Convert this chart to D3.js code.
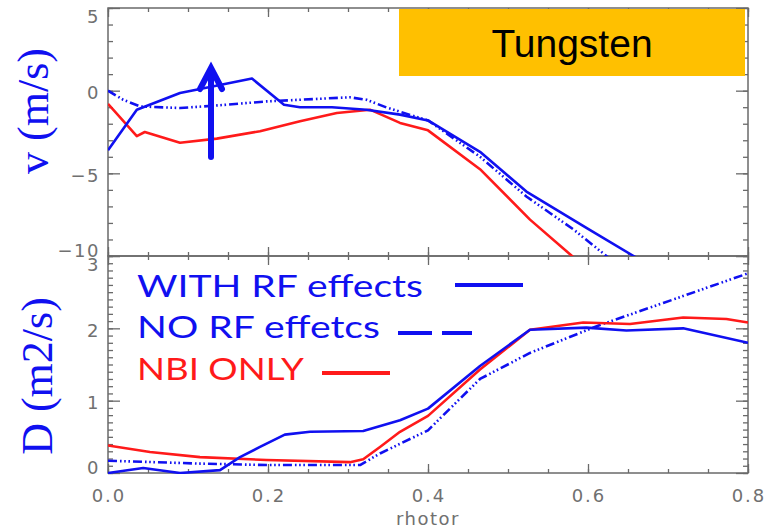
<!DOCTYPE html>
<html>
<head>
<meta charset="utf-8">
<script src="https://cdn.jsdelivr.net/npm/d3@7"></script>
<style>
  html, body { margin: 0; padding: 0; background: #fff; }
  svg { display: block; }
</style>
</head>
<body>
<svg id="chart" width="771" height="527"></svg>
<script>
// Radial profiles of tungsten transport vs normalised toroidal radius
const xTicks = [0.0, 0.2, 0.4, 0.6, 0.8];
const vTicks = [5, 0, -5, -10];
const dTicks = [0, 1, 2, 3];

// Convective velocity v (m/s): [rhotor, v]
const vWithRF = [[0,-3.6],[0.036,-1.15],[0.09,-0.14],[0.115,0.1],[0.18,0.73],[0.22,-0.85],[0.24,-1.0],[0.28,-1.0],[0.323,-1.15],[0.365,-1.45],[0.4,-1.8],[0.465,-3.7],[0.523,-6.1],[0.598,-8.3],[0.657,-10],[0.7,-11.3]];
const vNoRF = [[0,0],[0.019,-0.55],[0.04,-0.95],[0.09,-1.05],[0.135,-0.9],[0.198,-0.65],[0.24,-0.55],[0.302,-0.4],[0.323,-0.55],[0.35,-1.05],[0.4,-1.8],[0.465,-4.0],[0.523,-6.4],[0.582,-8.4],[0.623,-10],[0.66,-11.3]];
const vNBI = [[0,-0.8],[0.036,-2.75],[0.046,-2.5],[0.09,-3.15],[0.136,-2.9],[0.19,-2.45],[0.24,-1.85],[0.286,-1.35],[0.3275,-1.15],[0.365,-1.95],[0.4,-2.4],[0.465,-4.75],[0.5275,-7.8],[0.58,-10],[0.61,-11.3]];

// Diffusion coefficient D (m2/s): [rhotor, D]
const dWithRF = [[0,0.0],[0.044,0.07],[0.09,0.0],[0.14,0.04],[0.165,0.22],[0.19,0.36],[0.221,0.53],[0.2525,0.57],[0.319,0.58],[0.365,0.73],[0.4,0.89],[0.465,1.48],[0.5275,1.98],[0.598,2.01],[0.648,1.97],[0.719,2.0],[0.8,1.8]];
const dNoRF = [[0,0.17],[0.115,0.13],[0.198,0.11],[0.315,0.11],[0.34,0.27],[0.4,0.59],[0.465,1.3],[0.5275,1.66],[0.611,2.03],[0.694,2.35],[0.8,2.76]];
const dNBI = [[0,0.38],[0.0525,0.29],[0.115,0.22],[0.198,0.18],[0.3025,0.15],[0.319,0.19],[0.34,0.36],[0.365,0.57],[0.4,0.79],[0.465,1.43],[0.5275,1.98],[0.594,2.08],[0.6525,2.06],[0.719,2.15],[0.773,2.13],[0.8,2.08]];

const legendLabels = ["WITH RF effects", "NO RF effetcs", "NBI ONLY"];

const BLUE = "#1010f0", RED = "#ff1a1a", AXIS = "#6a6a6a", LABEL = "#707070";
const DASHDOT = "9,3,1.6,2.6,1.6,2.6,1.6,3";

const svg = d3.select("#chart");
const x = d3.scaleLinear([0, 0.8], [108, 748]);
const yTop = d3.scaleLinear([-10, 5], [256, 8]);
const yBot = d3.scaleLinear([0, 3], [473, 256]);

const defs = svg.append("defs");
function clip(id, y0, y1) {
  defs.append("clipPath").attr("id", id).append("rect")
    .attr("x", x.range()[0]).attr("y", y0)
    .attr("width", x.range()[1] - x.range()[0]).attr("height", y1 - y0);
}
clip("clipTop", 8, 256);
clip("clipBot", 256, 474);

function panelAxes(y, majorStep, minorStep, showX) {
  const [d0, d1] = y.domain();
  const yMajor = d3.range(Math.ceil(d0 / majorStep) * majorStep, d1 + 1e-9, majorStep);
  const yMinor = d3.range(d0, d1 + 1e-9, minorStep);
  const xMajor = d3.range(0, 0.8001, 0.2);
  const xMinor = d3.range(0, 0.8001, 0.05);
  const g = svg.append("g");
  const [yb, yt] = y.range();
  const [xl, xr] = x.range();
  const ax = (gen, tx, ty) => g.append("g").attr("transform", `translate(${tx},${ty})`)
    .call(gen).call(s => s.select(".domain").remove())
    .call(s => s.selectAll("line").attr("stroke", AXIS).attr("stroke-width", 1.3));
  // y ticks, left and right, pointing inward
  ax(d3.axisLeft(y).tickValues(yMinor).tickSizeInner(-5).tickSizeOuter(0).tickFormat(""), xl, 0);
  ax(d3.axisLeft(y).tickValues(yMajor).tickSizeInner(-12).tickSizeOuter(0).tickFormat(""), xl, 0);
  ax(d3.axisRight(y).tickValues(yMinor).tickSizeInner(-5).tickSizeOuter(0).tickFormat(""), xr, 0);
  ax(d3.axisRight(y).tickValues(yMajor).tickSizeInner(-12).tickSizeOuter(0).tickFormat(""), xr, 0);
  // x ticks, top and bottom, pointing inward
  ax(d3.axisBottom(x).tickValues(xMinor).tickSizeInner(-4).tickSizeOuter(0).tickFormat(""), 0, yb);
  ax(d3.axisBottom(x).tickValues(xMajor).tickSizeInner(-9).tickSizeOuter(0).tickFormat(""), 0, yb);
  ax(d3.axisTop(x).tickValues(xMinor).tickSizeInner(-4).tickSizeOuter(0).tickFormat(""), 0, yt);
  ax(d3.axisTop(x).tickValues(xMajor).tickSizeInner(-9).tickSizeOuter(0).tickFormat(""), 0, yt);
  g.append("rect").attr("x", xl).attr("y", yt).attr("width", xr - xl).attr("height", yb - yt)
    .attr("fill", "none").attr("stroke", AXIS).attr("stroke-width", 1.5);
  return g;
}

panelAxes(yTop, 5, 1);
panelAxes(yBot, 1, 0.1);

// y tick labels; end labels are pulled inside the frame
function yLabels(y, ticks, fmt) {
  const [yb, yt] = y.range();
  svg.append("g").selectAll("text").data(ticks).join("text")
    .attr("x", 100)
    .attr("y", d => Math.min(Math.max(y(d) + 2, yt + 8), yb - 6))
    .attr("text-anchor", "end").attr("dominant-baseline", "central")
    .attr("font-family", "DejaVu Sans").attr("font-size", 18)
    .attr("letter-spacing", 1.5).attr("fill", LABEL)
    .text(fmt);
}
yLabels(yTop, vTicks, d => d < 0 ? "\u2212" + Math.abs(d) : d);
yLabels(yBot, dTicks, d => d);

svg.append("g").selectAll("text").data(xTicks).join("text")
  .attr("x", d => x(d) + 1).attr("y", 495)
  .attr("text-anchor", "middle").attr("dominant-baseline", "central")
  .attr("font-family", "DejaVu Sans").attr("font-size", 18)
  .attr("letter-spacing", 2).attr("fill", LABEL)
  .text(d => d.toFixed(1));

svg.append("text").attr("x", 428).attr("y", 518)
  .attr("text-anchor", "middle").attr("dominant-baseline", "central")
  .attr("font-family", "DejaVu Sans").attr("font-size", 18)
  .attr("letter-spacing", 1.5).attr("fill", LABEL).text("rhotor");

// axis titles
function yTitle(txt, cx, cy) {
  svg.append("text").attr("transform", `translate(${cx},${cy}) rotate(-90)`)
    .attr("text-anchor", "middle").attr("dominant-baseline", "central")
    .attr("font-family", "Liberation Serif").attr("font-size", 44)
    .attr("fill", BLUE).text(txt);
}
yTitle("v (m/s)", 33, 111);
yTitle("D (m2/s)", 37, 376);

// profiles
function curve(data, y, color, dash, clipId) {
  const line = d3.line().x(d => x(d[0])).y(d => y(d[1]));
  svg.append("path").datum(data).attr("d", line)
    .attr("clip-path", `url(#${clipId})`)
    .attr("fill", "none").attr("stroke", color).attr("stroke-width", 2.6)
    .attr("stroke-linejoin", "round")
    .attr("stroke-dasharray", dash || null);
}
curve(vNBI, yTop, RED, null, "clipTop");
curve(vNoRF, yTop, BLUE, DASHDOT, "clipTop");
curve(vWithRF, yTop, BLUE, null, "clipTop");
curve(dNoRF, yBot, BLUE, DASHDOT, "clipBot");
curve(dNBI, yBot, RED, null, "clipBot");
curve(dWithRF, yBot, BLUE, null, "clipBot");

// upward arrow
const arrow = svg.append("g").attr("stroke", BLUE).attr("stroke-width", 6)
  .attr("fill", "none").attr("stroke-linecap", "round").attr("stroke-linejoin", "miter");
arrow.append("line").attr("x1", 211).attr("y1", 157).attr("x2", 211).attr("y2", 70);
arrow.append("polyline").attr("points", "200,89 211,68 222,89");

// material tag
svg.append("rect").attr("x", 399).attr("y", 9).attr("width", 346).attr("height", 67)
  .attr("fill", "#ffc000");
svg.append("text").attr("x", 572).attr("y", 57).attr("text-anchor", "middle")
  .attr("font-family", "Liberation Sans").attr("font-size", 39).attr("fill", "#000")
  .text("Tungsten");

// legend
const legend = [
  { label: legendLabels[0], color: BLUE, base: 297, width: 286, sample: [[455, 523]], ly: 285 },
  { label: legendLabels[1], color: BLUE, base: 338, width: 243, sample: [[398, 432], [442, 472]], ly: 333 },
  { label: legendLabels[2], color: RED, base: 380, width: 167, sample: [[322, 390]], ly: 373 }
];
const lg = svg.append("g");
legend.forEach(e => {
  lg.append("text").attr("x", 137).attr("y", e.base)
    .attr("font-family", "Lato").attr("font-size", 31)
    .attr("textLength", e.width).attr("lengthAdjust", "spacingAndGlyphs")
    .attr("fill", e.color).text(e.label);
  e.sample.forEach(([a, b]) => lg.append("line")
    .attr("x1", a).attr("x2", b).attr("y1", e.ly).attr("y2", e.ly)
    .attr("stroke", e.color).attr("stroke-width", 4));
});
</script>
</body>
</html>
